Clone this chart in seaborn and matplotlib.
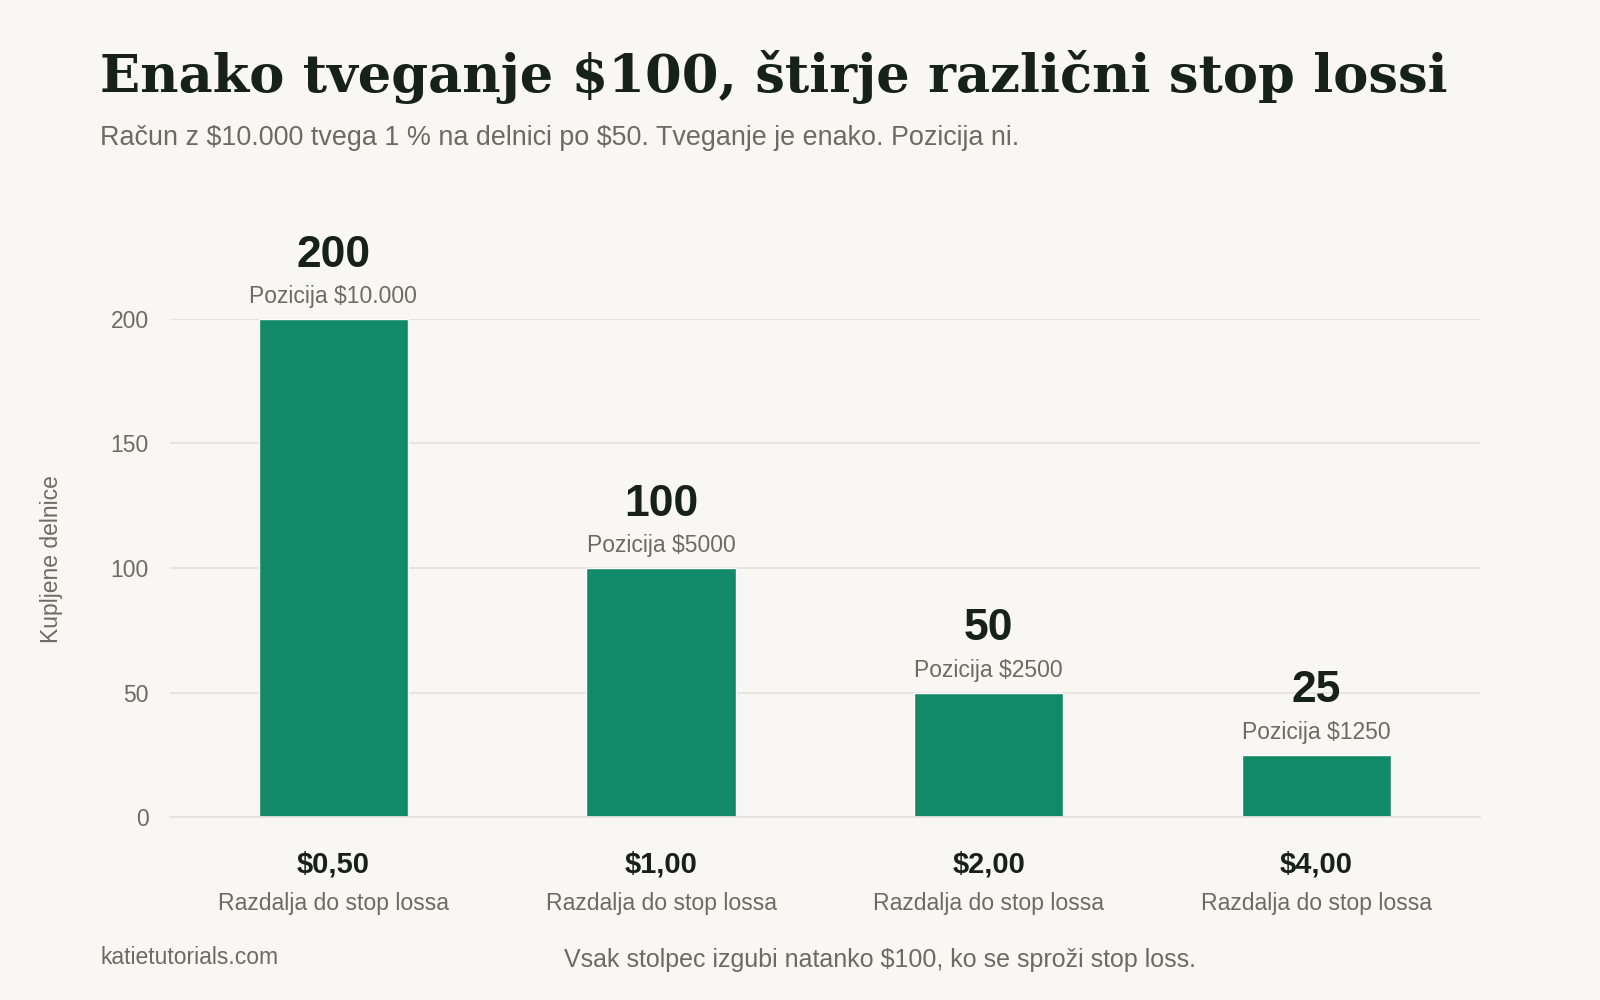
import numpy as np
import matplotlib
matplotlib.use("Agg")
import matplotlib.pyplot as plt
import matplotlib.transforms as mtransforms
import seaborn as sns
import pandas as pd

# data
distances = ["$0,50", "$1,00", "$2,00", "$4,00"]
shares = [200, 100, 50, 25]
positions = ["Pozicija $10.000", "Pozicija $5000", "Pozicija $2500", "Pozicija $1250"]
sub_label = "Razdalja do stop lossa"

title = "Enako tveganje $100, štirje različni stop lossi"
subtitle = "Račun z $10.000 tvega 1 % na delnici po $50. Tveganje je enako. Pozicija ni."
y_label = "Kupljene delnice"
source = "katietutorials.com"
note = "Vsak stolpec izgubi natanko $100, ko se sproži stop loss."

# colours
bg = "#f8f7f3"
bar_col = "#128a68"
dark = "#17211c"
gray = "#6c6b61"
grid_col = "#e4e2dc"

sns.set_theme(style="white")
plt.rcParams['font.family'] = ['Liberation Sans', 'DejaVu Sans']
plt.rcParams['text.parse_math'] = False  # dollar signs are plain text

df = pd.DataFrame({"dist": distances, "shares": shares})

fig = plt.figure(figsize=(16, 10), dpi=100, facecolor=bg)
ax = fig.add_axes([0.106, 0.183, 0.819, 0.498])
ax.set_facecolor(bg)

sns.barplot(data=df, x="dist", y="shares", color=bar_col, width=0.455,
            saturation=1, ax=ax, zorder=3)

ax.set_xlim(-0.5, 3.5)
ax.set_ylim(0, 200)
ax.set_yticks([0, 50, 100, 150, 200])
ax.yaxis.grid(True, color=grid_col, linewidth=1.3, zorder=0)
ax.xaxis.grid(False)
for s in ["top", "right", "left"]:
    ax.spines[s].set_visible(False)
ax.spines["bottom"].set_color(grid_col)
ax.spines["bottom"].set_linewidth(1.3)
ax.spines["bottom"].set_zorder(4)

ax.tick_params(axis="y", length=0, pad=15, labelsize=16.5, labelcolor=gray)
ax.tick_params(axis="x", length=0, pad=24)
ax.set_xticks(range(len(distances)))
ax.set_xticklabels(distances, fontsize=21, fontweight="bold", color=dark)
ax.set_xlabel("")
ax.set_ylabel(y_label, fontsize=16.5, color=gray, va="center")
ax.yaxis.set_label_coords(-0.090, 0.518)

# second line under each tick
trans = mtransforms.blended_transform_factory(ax.transData, ax.transAxes)
for i, d in enumerate(distances):
    ax.text(i, -0.174, sub_label, transform=trans, ha="center", va="center",
            fontsize=16.6, color=gray)

# labels above bars
for i, (v, p) in enumerate(zip(shares, positions)):
    ax.annotate(str(v), (i, v), xytext=(0, 46), textcoords="offset points",
                ha="center", va="center", fontsize=32, fontweight="bold",
                color=dark, clip_on=False)
    ax.annotate(p, (i, v), xytext=(0, 16), textcoords="offset points",
                ha="center", va="center", fontsize=16.5, color=gray,
                clip_on=False)

fig.text(0.0625, 0.923, title, fontsize=38, fontweight="bold",
         family=["DejaVu Serif"], color=dark, ha="left", va="center")
fig.text(0.0625, 0.862, subtitle, fontsize=19.4, color=gray, ha="left", va="center")
fig.text(0.0625, 0.043, source, fontsize=16.5, color=gray, ha="left", va="center")
fig.text(0.55, 0.040, note, fontsize=18, color=gray, ha="center", va="center")

fig.savefig("out.png", dpi=100, facecolor=bg)
